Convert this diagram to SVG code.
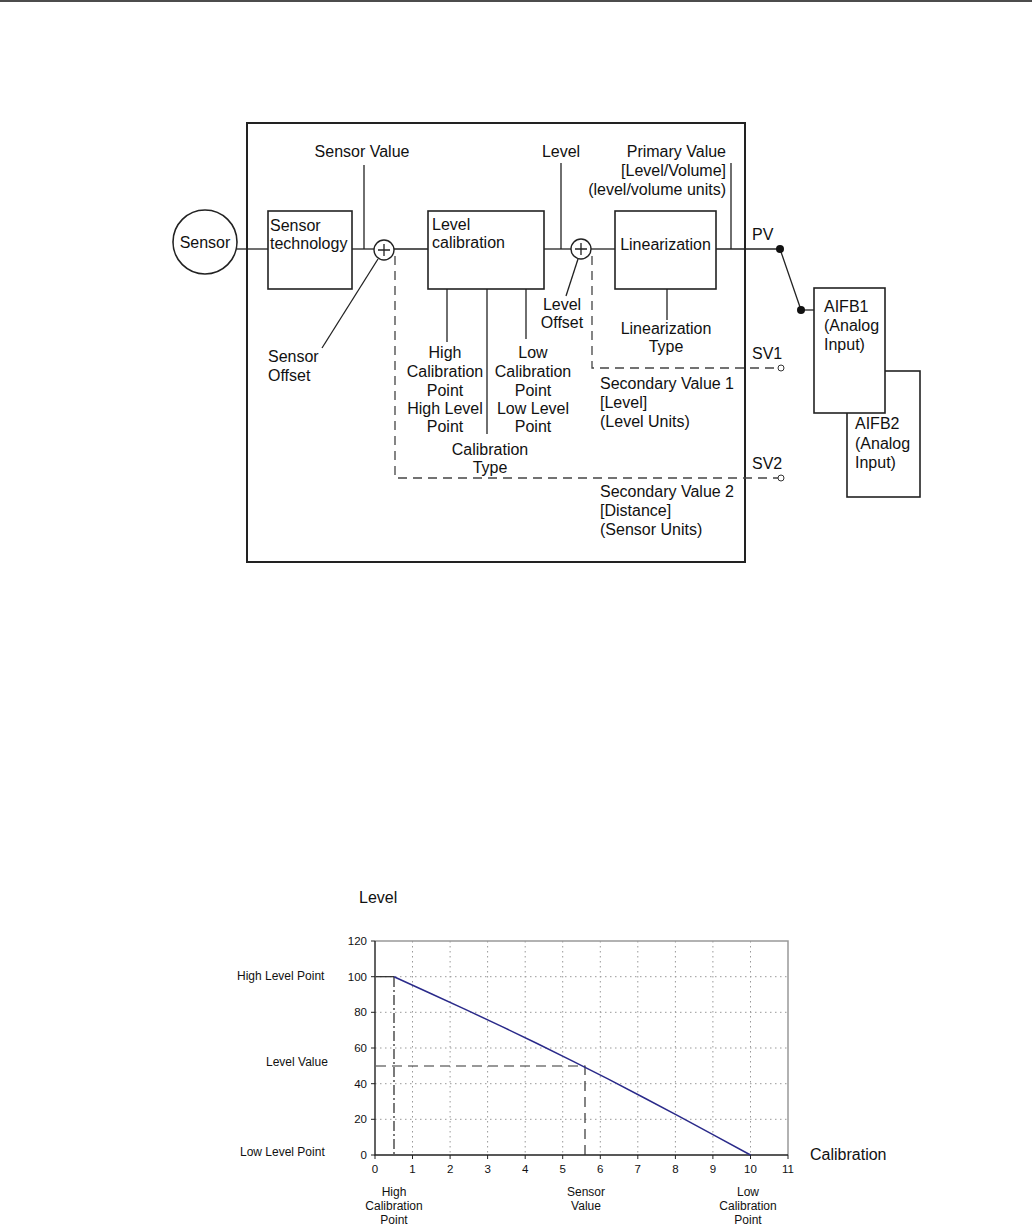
<svg xmlns="http://www.w3.org/2000/svg" width="1032" height="1230" viewBox="0 0 1032 1230">
<style>
text{font-family:"Liberation Sans",Arial,sans-serif;fill:#111}
.t16{font-size:16px}
.t12{font-size:12px}
.t11{font-size:11.5px;fill:#222}
.c{text-anchor:middle}
.e{text-anchor:end}
.ln{stroke:#222;stroke-width:1.3;fill:none}
.box{stroke:#222;stroke-width:1.6;fill:#fff}
.dash{stroke:#444;stroke-width:1.3;fill:none;stroke-dasharray:9,6}
.grid{stroke:#999;stroke-width:1;stroke-dasharray:1.5,3.5;fill:none}
</style>
<rect width="1032" height="1230" fill="#fff"/>
<line x1="0" y1="1" x2="1032" y2="1" stroke="#111" stroke-width="1.5"/>

<!-- outer frame -->
<rect id="frame" x="247" y="123" width="498" height="439" fill="none" stroke="#222" stroke-width="2"/>

<g id="connectors">
  <line class="ln" x1="237" y1="249" x2="268" y2="249"/>
  <line class="ln" x1="352" y1="249" x2="374" y2="249"/>
  <line class="ln" x1="364" y1="165" x2="364" y2="249"/>
  <line class="ln" x1="394" y1="249" x2="428" y2="249"/>
  <line class="ln" x1="544" y1="249" x2="571" y2="249"/>
  <line class="ln" x1="561" y1="163" x2="561" y2="249"/>
  <line class="ln" x1="591" y1="249" x2="615" y2="249"/>
  <line class="ln" x1="716" y1="249" x2="780" y2="249"/>
  <line class="ln" x1="731" y1="163" x2="731" y2="249"/>
  <line class="ln" x1="780" y1="249" x2="801" y2="310"/>
  <line class="ln" x1="801" y1="310" x2="814" y2="310"/>
  <line class="ln" x1="378" y1="259" x2="322" y2="348"/>
  <line class="ln" x1="578" y1="259" x2="566" y2="296"/>
  <line class="ln" x1="447" y1="289" x2="447" y2="342"/>
  <line class="ln" x1="487" y1="289" x2="487" y2="434"/>
  <line class="ln" x1="526" y1="289" x2="526" y2="339"/>
  <line class="ln" x1="667" y1="289" x2="667" y2="320"/>
  <path class="dash" d="M592,256 V368 H778"/>
  <path class="dash" d="M395,256 V478 H778"/>
  <circle cx="781" cy="368" r="3" fill="#fff" stroke="#333" stroke-width="1"/>
  <circle cx="781" cy="478" r="3" fill="#fff" stroke="#333" stroke-width="1"/>
  <circle cx="780" cy="249" r="4" fill="#111"/>
  <circle cx="801" cy="310" r="4" fill="#111"/>
</g>

<g id="sensor">
  <circle cx="205" cy="242" r="32" fill="#fff" stroke="#222" stroke-width="1.6"/>
  <text class="t16 c" x="205" y="248">Sensor</text>
</g>
<g id="sensor-technology">
  <rect class="box" x="268" y="211" width="84" height="78"/>
  <text class="t16" x="270" y="231">Sensor</text>
  <text class="t16" x="270" y="249">technology</text>
</g>
<g id="sum1">
  <circle cx="384" cy="250" r="10" fill="#fff" stroke="#222" stroke-width="1.4"/>
  <path class="ln" d="M378,250 H390 M384,244 V256"/>
</g>
<g id="level-calibration">
  <rect class="box" x="428" y="211" width="116" height="78"/>
  <text class="t16" x="432" y="230">Level</text>
  <text class="t16" x="432" y="248">calibration</text>
</g>
<g id="sum2">
  <circle cx="581" cy="249" r="10" fill="#fff" stroke="#222" stroke-width="1.4"/>
  <path class="ln" d="M575,249 H587 M581,243 V255"/>
</g>
<g id="linearization">
  <rect class="box" x="615" y="211" width="101" height="78"/>
  <text class="t16 c" x="665.5" y="250">Linearization</text>
</g>
<g id="aifb2">
  <rect class="box" x="847" y="371" width="73" height="126"/>
  <text class="t16" x="855" y="429">AIFB2</text>
  <text class="t16" x="855" y="449">(Analog</text>
  <text class="t16" x="855" y="468">Input)</text>
</g>
<g id="aifb1">
  <rect class="box" x="814" y="288" width="71" height="125"/>
  <text class="t16" x="824" y="312">AIFB1</text>
  <text class="t16" x="824" y="331">(Analog</text>
  <text class="t16" x="824" y="350">Input)</text>
</g>

<g id="labels">
  <text class="t16 c" x="362" y="157">Sensor Value</text>
  <text class="t16 c" x="561" y="157">Level</text>
  <text class="t16 e" x="726" y="157">Primary Value</text>
  <text class="t16 e" x="726" y="176">[Level/Volume]</text>
  <text class="t16 e" x="726" y="195">(level/volume units)</text>
  <text class="t16" x="752" y="240">PV</text>
  <text class="t16" x="268" y="362">Sensor</text>
  <text class="t16" x="268" y="381">Offset</text>
  <text class="t16 c" x="562" y="310">Level</text>
  <text class="t16 c" x="562" y="328">Offset</text>
  <text class="t16 c" x="445" y="358">High</text>
  <text class="t16 c" x="445" y="377">Calibration</text>
  <text class="t16 c" x="445" y="396">Point</text>
  <text class="t16 c" x="445" y="414">High Level</text>
  <text class="t16 c" x="445" y="432">Point</text>
  <text class="t16 c" x="533" y="358">Low</text>
  <text class="t16 c" x="533" y="377">Calibration</text>
  <text class="t16 c" x="533" y="396">Point</text>
  <text class="t16 c" x="533" y="414">Low Level</text>
  <text class="t16 c" x="533" y="432">Point</text>
  <text class="t16 c" x="490" y="455">Calibration</text>
  <text class="t16 c" x="490" y="473">Type</text>
  <text class="t16 c" x="666" y="334">Linearization</text>
  <text class="t16 c" x="666" y="352">Type</text>
  <text class="t16" x="752" y="359">SV1</text>
  <text class="t16" x="752" y="469">SV2</text>
  <text class="t16" x="600" y="389">Secondary Value 1</text>
  <text class="t16" x="600" y="408">[Level]</text>
  <text class="t16" x="600" y="427">(Level Units)</text>
  <text class="t16" x="600" y="497">Secondary Value 2</text>
  <text class="t16" x="600" y="516">[Distance]</text>
  <text class="t16" x="600" y="535">(Sensor Units)</text>
</g>

<!-- chart -->
<g id="chart">
  <g class="grid">
    <path d="M412.5,941 V1155 M450.1,941 V1155 M487.6,941 V1155 M525.2,941 V1155 M562.7,941 V1155 M600.3,941 V1155 M637.8,941 V1155 M675.4,941 V1155 M712.9,941 V1155 M750.5,941 V1155"/>
    <path d="M375,976.7 H788 M375,1012.3 H788 M375,1048 H788 M375,1083.7 H788 M375,1119.3 H788"/>
  </g>
  <path d="M375,941 H788 V1155" fill="none" stroke="#999" stroke-width="1.5"/>
  <path d="M375,941 V1155 H788" fill="none" stroke="#222" stroke-width="1.4"/>
  <path stroke="#222" stroke-width="1" d="M371,941 H375 M371,976.7 H375 M371,1012.3 H375 M371,1048 H375 M371,1083.7 H375 M371,1119.3 H375 M371,1155 H375 M375,1155 V1159 M412.5,1155 V1159 M450.1,1155 V1159 M487.6,1155 V1159 M525.2,1155 V1159 M562.7,1155 V1159 M600.3,1155 V1159 M637.8,1155 V1159 M675.4,1155 V1159 M712.9,1155 V1159 M750.5,1155 V1159 M788,1155 V1159"/>
  <line x1="376" y1="976.7" x2="394" y2="976.7" stroke="#222" stroke-width="1.2"/>
  <line x1="394" y1="977" x2="394" y2="1155" stroke="#222" stroke-width="1.2" stroke-dasharray="10,3,2,3"/>
  <path d="M376,1066 H585 V1155" fill="none" stroke="#333" stroke-width="1.2" stroke-dasharray="10,6"/>
  <polyline points="394,976.7 429.6,993 465.3,1009.4 501,1026.1 536.6,1043.3 572.2,1060.8 607.9,1078.9 643.5,1097.5 679.2,1116.4 714.8,1135.6 750.5,1155" fill="none" stroke="#2a2a8a" stroke-width="1.5"/>
  <g class="t11 e">
    <text x="367" y="945">120</text>
    <text x="367" y="980.7">100</text>
    <text x="367" y="1016.3">80</text>
    <text x="367" y="1052">60</text>
    <text x="367" y="1087.7">40</text>
    <text x="367" y="1123.3">20</text>
    <text x="367" y="1159">0</text>
  </g>
  <g class="t11 c">
    <text x="375" y="1173">0</text>
    <text x="412.5" y="1173">1</text>
    <text x="450.1" y="1173">2</text>
    <text x="487.6" y="1173">3</text>
    <text x="525.2" y="1173">4</text>
    <text x="562.7" y="1173">5</text>
    <text x="600.3" y="1173">6</text>
    <text x="637.8" y="1173">7</text>
    <text x="675.4" y="1173">8</text>
    <text x="712.9" y="1173">9</text>
    <text x="750.5" y="1173">10</text>
    <text x="788" y="1173">11</text>
  </g>
  <text class="t16" x="359" y="903">Level</text>
  <text class="t16" x="810" y="1160">Calibration</text>
  <text class="t12" x="237" y="980">High Level Point</text>
  <text class="t12" x="266" y="1066">Level Value</text>
  <text class="t12" x="240" y="1156">Low Level Point</text>
  <g class="t12 c">
    <text x="394" y="1196">High</text>
    <text x="394" y="1210">Calibration</text>
    <text x="394" y="1224">Point</text>
    <text x="586" y="1196">Sensor</text>
    <text x="586" y="1210">Value</text>
    <text x="748" y="1196">Low</text>
    <text x="748" y="1210">Calibration</text>
    <text x="748" y="1224">Point</text>
  </g>
</g>
</svg>
